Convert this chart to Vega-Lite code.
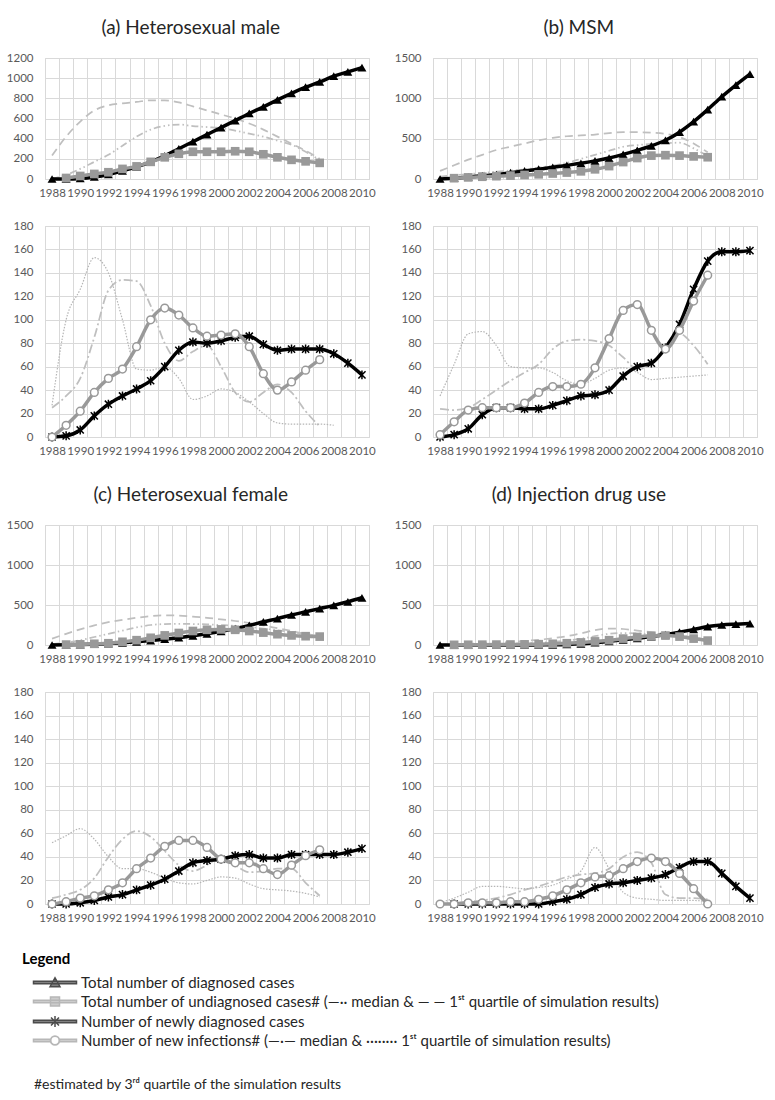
{
  "$schema": "https://vega.github.io/schema/vega-lite/v6.json",
  "background": "white",
  "padding": {"left": 5, "top": 18, "right": 5, "bottom": 5},
  "config": {
    "font": "Lato",
    "view": {"stroke": "#d9d9d9", "strokeWidth": 1},
    "axis": {"domain": false, "ticks": false, "labelColor": "#595959", "labelFontSize": 11.5, "labelFont": "Lato", "gridColor": "#d9d9d9", "gridWidth": 1, "labelPadding": 12},
    "axisX": {"labelPadding": 8},
    "title": {"font": "Lato", "fontSize": 19, "fontWeight": "normal", "color": "#262626"}
  },
  "resolve": {"scale": {"shape": "independent", "fill": "independent", "stroke": "independent"}, "legend": {"shape": "independent", "fill": "independent", "stroke": "independent"}},
  "datasets": {
    "m": [
      {"p":"a","yr":1988,"d":0,"u":null,"um":5,"uq":233,"nd":0,"ni":0,"nm":25,"nq":27},
      {"p":"a","yr":1989,"d":0,"u":10,"um":40,"uq":420,"nd":1,"ni":10,"nm":35,"nq":100},
      {"p":"a","yr":1990,"d":5,"u":30,"um":100,"uq":570,"nd":6,"ni":22,"nm":50,"nq":126},
      {"p":"a","yr":1991,"d":20,"u":50,"um":170,"uq":680,"nd":18,"ni":38,"nm":85,"nq":153},
      {"p":"a","yr":1992,"d":45,"u":67,"um":240,"uq":730,"nd":28,"ni":50,"nm":125,"nq":140},
      {"p":"a","yr":1993,"d":80,"u":100,"um":330,"uq":750,"nd":35,"ni":58,"nm":134,"nq":100},
      {"p":"a","yr":1994,"d":120,"u":125,"um":420,"uq":765,"nd":41,"ni":77,"nm":133,"nq":58},
      {"p":"a","yr":1995,"d":170,"u":170,"um":490,"uq":780,"nd":48,"ni":100,"nm":112,"nq":57},
      {"p":"a","yr":1996,"d":230,"u":215,"um":527,"uq":780,"nd":60,"ni":110,"nm":80,"nq":60},
      {"p":"a","yr":1997,"d":300,"u":250,"um":540,"uq":760,"nd":74,"ni":104,"nm":65,"nq":50},
      {"p":"a","yr":1998,"d":370,"u":270,"um":525,"uq":720,"nd":81,"ni":93,"nm":73,"nq":32},
      {"p":"a","yr":1999,"d":440,"u":270,"um":515,"uq":680,"nd":80,"ni":86,"nm":78,"nq":35},
      {"p":"a","yr":2000,"d":510,"u":270,"um":505,"uq":640,"nd":82,"ni":87,"nm":60,"nq":41},
      {"p":"a","yr":2001,"d":580,"u":275,"um":480,"uq":600,"nd":85,"ni":88,"nm":38,"nq":38},
      {"p":"a","yr":2002,"d":650,"u":270,"um":450,"uq":550,"nd":86,"ni":77,"nm":30,"nq":30},
      {"p":"a","yr":2003,"d":715,"u":245,"um":420,"uq":490,"nd":79,"ni":54,"nm":38,"nq":20},
      {"p":"a","yr":2004,"d":785,"u":215,"um":380,"uq":420,"nd":74,"ni":40,"nm":45,"nq":12},
      {"p":"a","yr":2005,"d":850,"u":190,"um":340,"uq":350,"nd":75,"ni":47,"nm":38,"nq":11},
      {"p":"a","yr":2006,"d":910,"u":175,"um":270,"uq":280,"nd":75,"ni":57,"nm":22,"nq":11},
      {"p":"a","yr":2007,"d":963,"u":160,"um":190,"uq":200,"nd":75,"ni":66,"nm":9,"nq":11},
      {"p":"a","yr":2008,"d":1020,"u":null,"um":null,"uq":null,"nd":71,"ni":null,"nm":null,"nq":10},
      {"p":"a","yr":2009,"d":1063,"u":null,"um":null,"uq":null,"nd":63,"ni":null,"nm":null,"nq":null},
      {"p":"a","yr":2010,"d":1105,"u":null,"um":null,"uq":null,"nd":53,"ni":null,"nm":null,"nq":null},

      {"p":"b","yr":1988,"d":0,"u":null,"um":30,"uq":100,"nd":0,"ni":2,"nm":24,"nq":35},
      {"p":"b","yr":1989,"d":10,"u":10,"um":45,"uq":170,"nd":2,"ni":13,"nm":23,"nq":62},
      {"p":"b","yr":1990,"d":25,"u":20,"um":60,"uq":240,"nd":7,"ni":23,"nm":25,"nq":88},
      {"p":"b","yr":1991,"d":40,"u":28,"um":75,"uq":300,"nd":19,"ni":25,"nm":32,"nq":90},
      {"p":"b","yr":1992,"d":55,"u":35,"um":90,"uq":360,"nd":25,"ni":25,"nm":40,"nq":78},
      {"p":"b","yr":1993,"d":78,"u":42,"um":105,"uq":400,"nd":25,"ni":25,"nm":48,"nq":60},
      {"p":"b","yr":1994,"d":100,"u":50,"um":120,"uq":440,"nd":24,"ni":29,"nm":55,"nq":59},
      {"p":"b","yr":1995,"d":122,"u":58,"um":140,"uq":480,"nd":24,"ni":38,"nm":62,"nq":59},
      {"p":"b","yr":1996,"d":145,"u":68,"um":165,"uq":510,"nd":27,"ni":43,"nm":75,"nq":55},
      {"p":"b","yr":1997,"d":170,"u":80,"um":200,"uq":530,"nd":31,"ni":43,"nm":82,"nq":48},
      {"p":"b","yr":1998,"d":195,"u":95,"um":250,"uq":540,"nd":35,"ni":45,"nm":83,"nq":45},
      {"p":"b","yr":1999,"d":225,"u":120,"um":300,"uq":550,"nd":36,"ni":59,"nm":82,"nq":50},
      {"p":"b","yr":2000,"d":260,"u":160,"um":350,"uq":570,"nd":40,"ni":84,"nm":78,"nq":57},
      {"p":"b","yr":2001,"d":305,"u":210,"um":400,"uq":580,"nd":52,"ni":108,"nm":68,"nq":59},
      {"p":"b","yr":2002,"d":355,"u":260,"um":420,"uq":580,"nd":60,"ni":113,"nm":58,"nq":55},
      {"p":"b","yr":2003,"d":410,"u":290,"um":435,"uq":575,"nd":63,"ni":91,"nm":62,"nq":49},
      {"p":"b","yr":2004,"d":480,"u":295,"um":445,"uq":560,"nd":76,"ni":75,"nm":76,"nq":50},
      {"p":"b","yr":2005,"d":580,"u":290,"um":450,"uq":520,"nd":96,"ni":91,"nm":88,"nq":51},
      {"p":"b","yr":2006,"d":710,"u":280,"um":380,"uq":440,"nd":126,"ni":116,"nm":78,"nq":52},
      {"p":"b","yr":2007,"d":860,"u":270,"um":280,"uq":330,"nd":150,"ni":138,"nm":62,"nq":53},
      {"p":"b","yr":2008,"d":1020,"u":null,"um":null,"uq":null,"nd":158,"ni":null,"nm":null,"nq":null},
      {"p":"b","yr":2009,"d":1165,"u":null,"um":null,"uq":null,"nd":158,"ni":null,"nm":null,"nq":null},
      {"p":"b","yr":2010,"d":1300,"u":null,"um":null,"uq":null,"nd":159,"ni":null,"nm":null,"nq":null},

      {"p":"c","yr":1988,"d":0,"u":null,"um":10,"uq":80,"nd":0,"ni":0,"nm":5,"nq":52},
      {"p":"c","yr":1989,"d":2,"u":5,"um":30,"uq":140,"nd":0,"ni":2,"nm":8,"nq":58},
      {"p":"c","yr":1990,"d":5,"u":8,"um":60,"uq":195,"nd":1,"ni":5,"nm":12,"nq":64},
      {"p":"c","yr":1991,"d":10,"u":15,"um":100,"uq":245,"nd":3,"ni":7,"nm":22,"nq":55},
      {"p":"c","yr":1992,"d":18,"u":22,"um":140,"uq":285,"nd":6,"ni":12,"nm":40,"nq":40},
      {"p":"c","yr":1993,"d":28,"u":40,"um":180,"uq":315,"nd":8,"ni":18,"nm":55,"nq":30},
      {"p":"c","yr":1994,"d":40,"u":60,"um":220,"uq":340,"nd":12,"ni":30,"nm":62,"nq":30},
      {"p":"c","yr":1995,"d":55,"u":90,"um":250,"uq":360,"nd":16,"ni":39,"nm":57,"nq":27},
      {"p":"c","yr":1996,"d":72,"u":120,"um":262,"uq":370,"nd":21,"ni":49,"nm":45,"nq":22},
      {"p":"c","yr":1997,"d":92,"u":150,"um":265,"uq":368,"nd":28,"ni":54,"nm":33,"nq":18},
      {"p":"c","yr":1998,"d":115,"u":175,"um":262,"uq":355,"nd":35,"ni":54,"nm":28,"nq":17},
      {"p":"c","yr":1999,"d":140,"u":190,"um":258,"uq":340,"nd":37,"ni":48,"nm":33,"nq":20},
      {"p":"c","yr":2000,"d":170,"u":195,"um":250,"uq":320,"nd":38,"ni":38,"nm":40,"nq":23},
      {"p":"c","yr":2001,"d":205,"u":190,"um":240,"uq":300,"nd":41,"ni":35,"nm":33,"nq":22},
      {"p":"c","yr":2002,"d":245,"u":175,"um":225,"uq":275,"nd":42,"ni":35,"nm":27,"nq":17},
      {"p":"c","yr":2003,"d":290,"u":155,"um":205,"uq":245,"nd":39,"ni":30,"nm":28,"nq":13},
      {"p":"c","yr":2004,"d":330,"u":135,"um":185,"uq":210,"nd":39,"ni":25,"nm":30,"nq":12},
      {"p":"c","yr":2005,"d":375,"u":120,"um":160,"uq":175,"nd":42,"ni":33,"nm":30,"nq":11},
      {"p":"c","yr":2006,"d":415,"u":110,"um":135,"uq":140,"nd":42,"ni":41,"nm":18,"nq":9},
      {"p":"c","yr":2007,"d":455,"u":105,"um":110,"uq":110,"nd":42,"ni":46,"nm":7,"nq":6},
      {"p":"c","yr":2008,"d":495,"u":null,"um":null,"uq":null,"nd":42,"ni":null,"nm":null,"nq":null},
      {"p":"c","yr":2009,"d":540,"u":null,"um":null,"uq":null,"nd":44,"ni":null,"nm":null,"nq":null},
      {"p":"c","yr":2010,"d":590,"u":null,"um":null,"uq":null,"nd":47,"ni":null,"nm":null,"nq":null},

      {"p":"d","yr":1988,"d":0,"u":null,"um":2,"uq":5,"nd":null,"ni":0,"nm":0,"nq":1},
      {"p":"d","yr":1989,"d":0,"u":2,"um":4,"uq":10,"nd":0,"ni":0,"nm":1,"nq":5},
      {"p":"d","yr":1990,"d":0,"u":3,"um":6,"uq":15,"nd":0,"ni":1,"nm":2,"nq":10},
      {"p":"d","yr":1991,"d":0,"u":4,"um":8,"uq":20,"nd":0,"ni":1,"nm":3,"nq":15},
      {"p":"d","yr":1992,"d":0,"u":5,"um":10,"uq":28,"nd":0,"ni":1,"nm":5,"nq":15},
      {"p":"d","yr":1993,"d":0,"u":6,"um":14,"uq":38,"nd":0,"ni":2,"nm":8,"nq":14},
      {"p":"d","yr":1994,"d":0,"u":8,"um":20,"uq":50,"nd":0,"ni":2,"nm":12,"nq":13},
      {"p":"d","yr":1995,"d":1,"u":10,"um":28,"uq":65,"nd":0,"ni":4,"nm":15,"nq":14},
      {"p":"d","yr":1996,"d":3,"u":15,"um":40,"uq":85,"nd":2,"ni":7,"nm":19,"nq":16},
      {"p":"d","yr":1997,"d":7,"u":22,"um":55,"uq":110,"nd":4,"ni":12,"nm":23,"nq":21},
      {"p":"d","yr":1998,"d":15,"u":32,"um":80,"uq":145,"nd":8,"ni":18,"nm":25,"nq":28},
      {"p":"d","yr":1999,"d":29,"u":45,"um":110,"uq":185,"nd":14,"ni":23,"nm":26,"nq":48},
      {"p":"d","yr":2000,"d":46,"u":60,"um":140,"uq":205,"nd":17,"ni":24,"nm":30,"nq":30},
      {"p":"d","yr":2001,"d":64,"u":80,"um":150,"uq":200,"nd":18,"ni":30,"nm":40,"nq":10},
      {"p":"d","yr":2002,"d":84,"u":100,"um":145,"uq":180,"nd":20,"ni":36,"nm":44,"nq":5},
      {"p":"d","yr":2003,"d":105,"u":115,"um":135,"uq":160,"nd":22,"ni":39,"nm":35,"nq":4},
      {"p":"d","yr":2004,"d":130,"u":118,"um":120,"uq":140,"nd":25,"ni":36,"nm":8,"nq":3},
      {"p":"d","yr":2005,"d":160,"u":105,"um":100,"uq":120,"nd":31,"ni":26,"nm":5,"nq":3},
      {"p":"d","yr":2006,"d":195,"u":80,"um":80,"uq":95,"nd":36,"ni":13,"nm":5,"nq":3},
      {"p":"d","yr":2007,"d":230,"u":55,"um":58,"uq":65,"nd":36,"ni":0,"nm":4,"nq":2},
      {"p":"d","yr":2008,"d":250,"u":null,"um":null,"uq":null,"nd":26,"ni":null,"nm":null,"nq":null},
      {"p":"d","yr":2009,"d":260,"u":null,"um":null,"uq":null,"nd":15,"ni":null,"nm":null,"nq":null},
      {"p":"d","yr":2010,"d":268,"u":null,"um":null,"uq":null,"nd":5,"ni":null,"nm":null,"nq":null}
    ]
  },
  "vconcat": [
    {
      "spacing": 17,
      "hconcat": [
        {
          "title": {"text": "(a) Heterosexual male", "anchor": "middle", "frame": "bounds", "offset": 14},
          "spacing": 20,
          "vconcat": [
            {
              "width": 324, "height": 121,
              "data": {"name": "m"},
              "transform": [{"filter": "datum.p === 'a'"}],
              "encoding": {"x": {"field": "yr", "type": "ordinal", "bandPosition": 0.5, "scale": {"type": "band", "paddingInner": 0, "paddingOuter": 0}, "axis": {"title": null, "tickBand": "extent", "grid": true, "labelAngle": 0, "labelOverlap": false, "labelExpr": "datum.value % 2 === 0 ? datum.label : ''"}}},
              "layer": [
                {"mark": {"type": "line", "stroke": "#bfbfbf", "strokeWidth": 1.75, "strokeDash": [7, 3, 1.5, 3, 1.5, 3], "interpolate": "monotone"}, "encoding": {"y": {"field": "um", "type": "quantitative", "scale": {"domain": [0, 1200], "nice": false}, "axis": {"title": null, "format": "d", "values": [0, 200, 400, 600, 800, 1000, 1200], "grid": true}}}},
                {"mark": {"type": "line", "stroke": "#bfbfbf", "strokeWidth": 1.75, "strokeDash": [8, 5], "interpolate": "monotone"}, "encoding": {"y": {"field": "uq", "type": "quantitative", "scale": {"domain": [0, 1200], "nice": false}, "axis": {"title": null, "format": "d", "values": [0, 200, 400, 600, 800, 1000, 1200], "grid": true}}}},
                {"mark": {"type": "line", "color": "#000000", "strokeWidth": 3.5, "strokeJoin": "round", "interpolate": "monotone", "point": {"shape": "triangle-up", "size": 80, "filled": true, "color": "#000000"}}, "encoding": {"y": {"field": "d", "type": "quantitative", "scale": {"domain": [0, 1200], "nice": false}, "axis": {"title": null, "format": "d", "values": [0, 200, 400, 600, 800, 1000, 1200], "grid": true}}}},
                {"mark": {"type": "line", "color": "#999999", "strokeWidth": 3.5, "strokeJoin": "round", "interpolate": "monotone", "point": {"shape": "square", "size": 75, "filled": true, "color": "#999999"}}, "encoding": {"y": {"field": "u", "type": "quantitative", "scale": {"domain": [0, 1200], "nice": false}, "axis": {"title": null, "format": "d", "values": [0, 200, 400, 600, 800, 1000, 1200], "grid": true}}}}
              ]
            },
            {
              "width": 324, "height": 211,
              "data": {"name": "m"},
              "transform": [{"filter": "datum.p === 'a'"}],
              "encoding": {"x": {"field": "yr", "type": "ordinal", "bandPosition": 0.5, "scale": {"type": "band", "paddingInner": 0, "paddingOuter": 0}, "axis": {"title": null, "tickBand": "extent", "grid": true, "labelAngle": 0, "labelOverlap": false, "labelExpr": "datum.value % 2 === 0 ? datum.label : ''"}}},
              "layer": [
                {"mark": {"type": "line", "stroke": "#bfbfbf", "strokeWidth": 1.75, "strokeDash": [9, 3, 2, 3], "interpolate": "monotone"}, "encoding": {"y": {"field": "nm", "type": "quantitative", "scale": {"domain": [0, 180], "nice": false}, "axis": {"title": null, "format": "d", "values": [0, 20, 40, 60, 80, 100, 120, 140, 160, 180], "grid": true}}}},
                {"mark": {"type": "line", "stroke": "#b5b5b5", "strokeWidth": 1.2, "strokeDash": [1.5, 1.5], "interpolate": "monotone"}, "encoding": {"y": {"field": "nq", "type": "quantitative", "scale": {"domain": [0, 180], "nice": false}, "axis": {"title": null, "format": "d", "values": [0, 20, 40, 60, 80, 100, 120, 140, 160, 180], "grid": true}}}},
                {"mark": {"type": "line", "color": "#000000", "strokeWidth": 3.5, "strokeJoin": "round", "interpolate": "monotone", "point": {"shape": "M-0.8,-0.8L0.8,0.8M-0.8,0.8L0.8,-0.8M0,-1V1", "size": 80, "filled": false, "strokeWidth": 1.5, "color": "#000000"}}, "encoding": {"y": {"field": "nd", "type": "quantitative", "scale": {"domain": [0, 180], "nice": false}, "axis": {"title": null, "format": "d", "values": [0, 20, 40, 60, 80, 100, 120, 140, 160, 180], "grid": true}}}},
                {"mark": {"type": "line", "color": "#999999", "strokeWidth": 3.5, "strokeJoin": "round", "interpolate": "monotone", "point": {"shape": "circle", "size": 60, "filled": true, "fill": "#ffffff", "stroke": "#999999", "strokeWidth": 1.5}}, "encoding": {"y": {"field": "ni", "type": "quantitative", "scale": {"domain": [0, 180], "nice": false}, "axis": {"title": null, "format": "d", "values": [0, 20, 40, 60, 80, 100, 120, 140, 160, 180], "grid": true}}}}
              ]
            }
          ]
        },
        {
          "title": {"text": "(b) MSM", "anchor": "middle", "frame": "bounds", "offset": 14},
          "spacing": 20,
          "vconcat": [
            {
              "width": 324, "height": 121,
              "data": {"name": "m"},
              "transform": [{"filter": "datum.p === 'b'"}],
              "encoding": {"x": {"field": "yr", "type": "ordinal", "bandPosition": 0.5, "scale": {"type": "band", "paddingInner": 0, "paddingOuter": 0}, "axis": {"title": null, "tickBand": "extent", "grid": true, "labelAngle": 0, "labelOverlap": false, "labelExpr": "datum.value % 2 === 0 ? datum.label : ''"}}},
              "layer": [
                {"mark": {"type": "line", "stroke": "#bfbfbf", "strokeWidth": 1.75, "strokeDash": [7, 3, 1.5, 3, 1.5, 3], "interpolate": "monotone"}, "encoding": {"y": {"field": "um", "type": "quantitative", "scale": {"domain": [0, 1500], "nice": false}, "axis": {"title": null, "format": "d", "values": [0, 500, 1000, 1500], "grid": true}}}},
                {"mark": {"type": "line", "stroke": "#bfbfbf", "strokeWidth": 1.75, "strokeDash": [8, 5], "interpolate": "monotone"}, "encoding": {"y": {"field": "uq", "type": "quantitative", "scale": {"domain": [0, 1500], "nice": false}, "axis": {"title": null, "format": "d", "values": [0, 500, 1000, 1500], "grid": true}}}},
                {"mark": {"type": "line", "color": "#000000", "strokeWidth": 3.5, "strokeJoin": "round", "interpolate": "monotone", "point": {"shape": "triangle-up", "size": 80, "filled": true, "color": "#000000"}}, "encoding": {"y": {"field": "d", "type": "quantitative", "scale": {"domain": [0, 1500], "nice": false}, "axis": {"title": null, "format": "d", "values": [0, 500, 1000, 1500], "grid": true}}}},
                {"mark": {"type": "line", "color": "#999999", "strokeWidth": 3.5, "strokeJoin": "round", "interpolate": "monotone", "point": {"shape": "square", "size": 75, "filled": true, "color": "#999999"}}, "encoding": {"y": {"field": "u", "type": "quantitative", "scale": {"domain": [0, 1500], "nice": false}, "axis": {"title": null, "format": "d", "values": [0, 500, 1000, 1500], "grid": true}}}}
              ]
            },
            {
              "width": 324, "height": 211,
              "data": {"name": "m"},
              "transform": [{"filter": "datum.p === 'b'"}],
              "encoding": {"x": {"field": "yr", "type": "ordinal", "bandPosition": 0.5, "scale": {"type": "band", "paddingInner": 0, "paddingOuter": 0}, "axis": {"title": null, "tickBand": "extent", "grid": true, "labelAngle": 0, "labelOverlap": false, "labelExpr": "datum.value % 2 === 0 ? datum.label : ''"}}},
              "layer": [
                {"mark": {"type": "line", "stroke": "#bfbfbf", "strokeWidth": 1.75, "strokeDash": [9, 3, 2, 3], "interpolate": "monotone"}, "encoding": {"y": {"field": "nm", "type": "quantitative", "scale": {"domain": [0, 180], "nice": false}, "axis": {"title": null, "format": "d", "values": [0, 20, 40, 60, 80, 100, 120, 140, 160, 180], "grid": true}}}},
                {"mark": {"type": "line", "stroke": "#b5b5b5", "strokeWidth": 1.2, "strokeDash": [1.5, 1.5], "interpolate": "monotone"}, "encoding": {"y": {"field": "nq", "type": "quantitative", "scale": {"domain": [0, 180], "nice": false}, "axis": {"title": null, "format": "d", "values": [0, 20, 40, 60, 80, 100, 120, 140, 160, 180], "grid": true}}}},
                {"mark": {"type": "line", "color": "#000000", "strokeWidth": 3.5, "strokeJoin": "round", "interpolate": "monotone", "point": {"shape": "M-0.8,-0.8L0.8,0.8M-0.8,0.8L0.8,-0.8M0,-1V1", "size": 80, "filled": false, "strokeWidth": 1.5, "color": "#000000"}}, "encoding": {"y": {"field": "nd", "type": "quantitative", "scale": {"domain": [0, 180], "nice": false}, "axis": {"title": null, "format": "d", "values": [0, 20, 40, 60, 80, 100, 120, 140, 160, 180], "grid": true}}}},
                {"mark": {"type": "line", "color": "#999999", "strokeWidth": 3.5, "strokeJoin": "round", "interpolate": "monotone", "point": {"shape": "circle", "size": 60, "filled": true, "fill": "#ffffff", "stroke": "#999999", "strokeWidth": 1.5}}, "encoding": {"y": {"field": "ni", "type": "quantitative", "scale": {"domain": [0, 180], "nice": false}, "axis": {"title": null, "format": "d", "values": [0, 20, 40, 60, 80, 100, 120, 140, 160, 180], "grid": true}}}}
              ]
            }
          ]
        }
      ]
    },
    {
      "spacing": 17,
      "hconcat": [
        {
          "title": {"text": "(c) Heterosexual female", "anchor": "middle", "frame": "bounds", "offset": 14},
          "spacing": 20,
          "vconcat": [
            {
              "width": 324, "height": 120,
              "data": {"name": "m"},
              "transform": [{"filter": "datum.p === 'c'"}],
              "encoding": {"x": {"field": "yr", "type": "ordinal", "bandPosition": 0.5, "scale": {"type": "band", "paddingInner": 0, "paddingOuter": 0}, "axis": {"title": null, "tickBand": "extent", "grid": true, "labelAngle": 0, "labelOverlap": false, "labelExpr": "datum.value % 2 === 0 ? datum.label : ''"}}},
              "layer": [
                {"mark": {"type": "line", "stroke": "#bfbfbf", "strokeWidth": 1.75, "strokeDash": [7, 3, 1.5, 3, 1.5, 3], "interpolate": "monotone"}, "encoding": {"y": {"field": "um", "type": "quantitative", "scale": {"domain": [0, 1500], "nice": false}, "axis": {"title": null, "format": "d", "values": [0, 500, 1000, 1500], "grid": true}}}},
                {"mark": {"type": "line", "stroke": "#bfbfbf", "strokeWidth": 1.75, "strokeDash": [8, 5], "interpolate": "monotone"}, "encoding": {"y": {"field": "uq", "type": "quantitative", "scale": {"domain": [0, 1500], "nice": false}, "axis": {"title": null, "format": "d", "values": [0, 500, 1000, 1500], "grid": true}}}},
                {"mark": {"type": "line", "color": "#000000", "strokeWidth": 3.5, "strokeJoin": "round", "interpolate": "monotone", "point": {"shape": "triangle-up", "size": 80, "filled": true, "color": "#000000"}}, "encoding": {"y": {"field": "d", "type": "quantitative", "scale": {"domain": [0, 1500], "nice": false}, "axis": {"title": null, "format": "d", "values": [0, 500, 1000, 1500], "grid": true}}}},
                {"mark": {"type": "line", "color": "#999999", "strokeWidth": 3.5, "strokeJoin": "round", "interpolate": "monotone", "point": {"shape": "square", "size": 75, "filled": true, "color": "#999999"}}, "encoding": {"y": {"field": "u", "type": "quantitative", "scale": {"domain": [0, 1500], "nice": false}, "axis": {"title": null, "format": "d", "values": [0, 500, 1000, 1500], "grid": true}}}}
              ]
            },
            {
              "width": 324, "height": 212,
              "data": {"name": "m"},
              "transform": [{"filter": "datum.p === 'c'"}],
              "encoding": {"x": {"field": "yr", "type": "ordinal", "bandPosition": 0.5, "scale": {"type": "band", "paddingInner": 0, "paddingOuter": 0}, "axis": {"title": null, "tickBand": "extent", "grid": true, "labelAngle": 0, "labelOverlap": false, "labelExpr": "datum.value % 2 === 0 ? datum.label : ''"}}},
              "layer": [
                {"mark": {"type": "line", "stroke": "#bfbfbf", "strokeWidth": 1.75, "strokeDash": [9, 3, 2, 3], "interpolate": "monotone"}, "encoding": {"y": {"field": "nm", "type": "quantitative", "scale": {"domain": [0, 180], "nice": false}, "axis": {"title": null, "format": "d", "values": [0, 20, 40, 60, 80, 100, 120, 140, 160, 180], "grid": true}}}},
                {"mark": {"type": "line", "stroke": "#b5b5b5", "strokeWidth": 1.2, "strokeDash": [1.5, 1.5], "interpolate": "monotone"}, "encoding": {"y": {"field": "nq", "type": "quantitative", "scale": {"domain": [0, 180], "nice": false}, "axis": {"title": null, "format": "d", "values": [0, 20, 40, 60, 80, 100, 120, 140, 160, 180], "grid": true}}}},
                {"mark": {"type": "line", "color": "#000000", "strokeWidth": 3.5, "strokeJoin": "round", "interpolate": "monotone", "point": {"shape": "M-0.8,-0.8L0.8,0.8M-0.8,0.8L0.8,-0.8M0,-1V1", "size": 80, "filled": false, "strokeWidth": 1.5, "color": "#000000"}}, "encoding": {"y": {"field": "nd", "type": "quantitative", "scale": {"domain": [0, 180], "nice": false}, "axis": {"title": null, "format": "d", "values": [0, 20, 40, 60, 80, 100, 120, 140, 160, 180], "grid": true}}}},
                {"mark": {"type": "line", "color": "#999999", "strokeWidth": 3.5, "strokeJoin": "round", "interpolate": "monotone", "point": {"shape": "circle", "size": 60, "filled": true, "fill": "#ffffff", "stroke": "#999999", "strokeWidth": 1.5}}, "encoding": {"y": {"field": "ni", "type": "quantitative", "scale": {"domain": [0, 180], "nice": false}, "axis": {"title": null, "format": "d", "values": [0, 20, 40, 60, 80, 100, 120, 140, 160, 180], "grid": true}}}}
              ]
            }
          ]
        },
        {
          "title": {"text": "(d) Injection drug use", "anchor": "middle", "frame": "bounds", "offset": 14},
          "spacing": 20,
          "vconcat": [
            {
              "width": 324, "height": 120,
              "data": {"name": "m"},
              "transform": [{"filter": "datum.p === 'd'"}],
              "encoding": {"x": {"field": "yr", "type": "ordinal", "bandPosition": 0.5, "scale": {"type": "band", "paddingInner": 0, "paddingOuter": 0}, "axis": {"title": null, "tickBand": "extent", "grid": true, "labelAngle": 0, "labelOverlap": false, "labelExpr": "datum.value % 2 === 0 ? datum.label : ''"}}},
              "layer": [
                {"mark": {"type": "line", "stroke": "#bfbfbf", "strokeWidth": 1.75, "strokeDash": [7, 3, 1.5, 3, 1.5, 3], "interpolate": "monotone"}, "encoding": {"y": {"field": "um", "type": "quantitative", "scale": {"domain": [0, 1500], "nice": false}, "axis": {"title": null, "format": "d", "values": [0, 500, 1000, 1500], "grid": true}}}},
                {"mark": {"type": "line", "stroke": "#bfbfbf", "strokeWidth": 1.75, "strokeDash": [8, 5], "interpolate": "monotone"}, "encoding": {"y": {"field": "uq", "type": "quantitative", "scale": {"domain": [0, 1500], "nice": false}, "axis": {"title": null, "format": "d", "values": [0, 500, 1000, 1500], "grid": true}}}},
                {"mark": {"type": "line", "color": "#000000", "strokeWidth": 3.5, "strokeJoin": "round", "interpolate": "monotone", "point": {"shape": "triangle-up", "size": 80, "filled": true, "color": "#000000"}}, "encoding": {"y": {"field": "d", "type": "quantitative", "scale": {"domain": [0, 1500], "nice": false}, "axis": {"title": null, "format": "d", "values": [0, 500, 1000, 1500], "grid": true}}}},
                {"mark": {"type": "line", "color": "#999999", "strokeWidth": 3.5, "strokeJoin": "round", "interpolate": "monotone", "point": {"shape": "square", "size": 75, "filled": true, "color": "#999999"}}, "encoding": {"y": {"field": "u", "type": "quantitative", "scale": {"domain": [0, 1500], "nice": false}, "axis": {"title": null, "format": "d", "values": [0, 500, 1000, 1500], "grid": true}}}}
              ]
            },
            {
              "width": 324, "height": 212,
              "data": {"name": "m"},
              "transform": [{"filter": "datum.p === 'd'"}],
              "encoding": {"x": {"field": "yr", "type": "ordinal", "bandPosition": 0.5, "scale": {"type": "band", "paddingInner": 0, "paddingOuter": 0}, "axis": {"title": null, "tickBand": "extent", "grid": true, "labelAngle": 0, "labelOverlap": false, "labelExpr": "datum.value % 2 === 0 ? datum.label : ''"}}},
              "layer": [
                {"mark": {"type": "line", "stroke": "#bfbfbf", "strokeWidth": 1.75, "strokeDash": [9, 3, 2, 3], "interpolate": "monotone"}, "encoding": {"y": {"field": "nm", "type": "quantitative", "scale": {"domain": [0, 180], "nice": false}, "axis": {"title": null, "format": "d", "values": [0, 20, 40, 60, 80, 100, 120, 140, 160, 180], "grid": true}}}},
                {"mark": {"type": "line", "stroke": "#b5b5b5", "strokeWidth": 1.2, "strokeDash": [1.5, 1.5], "interpolate": "monotone"}, "encoding": {"y": {"field": "nq", "type": "quantitative", "scale": {"domain": [0, 180], "nice": false}, "axis": {"title": null, "format": "d", "values": [0, 20, 40, 60, 80, 100, 120, 140, 160, 180], "grid": true}}}},
                {"mark": {"type": "line", "color": "#000000", "strokeWidth": 3.5, "strokeJoin": "round", "interpolate": "monotone", "point": {"shape": "M-0.8,-0.8L0.8,0.8M-0.8,0.8L0.8,-0.8M0,-1V1", "size": 80, "filled": false, "strokeWidth": 1.5, "color": "#000000"}}, "encoding": {"y": {"field": "nd", "type": "quantitative", "scale": {"domain": [0, 180], "nice": false}, "axis": {"title": null, "format": "d", "values": [0, 20, 40, 60, 80, 100, 120, 140, 160, 180], "grid": true}}}},
                {"mark": {"type": "line", "color": "#999999", "strokeWidth": 3.5, "strokeJoin": "round", "interpolate": "monotone", "point": {"shape": "circle", "size": 60, "filled": true, "fill": "#ffffff", "stroke": "#999999", "strokeWidth": 1.5}}, "encoding": {"y": {"field": "ni", "type": "quantitative", "scale": {"domain": [0, 180], "nice": false}, "axis": {"title": null, "format": "d", "values": [0, 20, 40, 60, 80, 100, 120, 140, 160, 180], "grid": true}}}}
              ]
            }
          ]
        }
      ]
    },
    {
      "width": 740, "height": 120,
      "view": {"stroke": null},
      "title": {"text": "#estimated by 3ʳᵈ quartile of the simulation results", "orient": "bottom", "anchor": "start", "fontSize": 14, "offset": 0, "dx": 12},
      "data": {"values": [{"s": "A"}, {"s": "B"}, {"s": "C"}, {"s": "D"}]},
      "transform": [{"filter": "false"}],
      "mark": {"type": "point", "filled": true},
      "encoding": {
        "shape": {
          "field": "s", "type": "nominal",
          "scale": {"domain": ["A", "B", "C", "D"], "range": [
            "M0.8,-0.25H9.4V0.25H0.8ZM4.1,0.85L5.1,-0.95L6.1,0.85Z",
            "M0.8,-0.25H9.4V0.25H0.8ZM4.2,-0.9H6V0.9H4.2Z",
            "M0.8,-0.25H9.4V0.25H0.8ZM5.1,-1.1V1.1M4.3,-0.8L5.9,0.8M4.3,0.8L5.9,-0.8",
            "M0.8,-0.25H4.2V0.25H0.8ZM6,-0.25H9.4V0.25H6ZM6,0A0.9,0.9,0,1,1,4.2,0A0.9,0.9,0,1,1,6,0ZM5.94,0A0.84,0.84,0,1,0,4.26,0A0.84,0.84,0,1,0,5.94,0Z"
          ]},
          "legend": {
            "orient": "none", "legendX": -23, "legendY": -6,
            "title": "Legend", "titleFontSize": 15, "titleFontWeight": "bold", "titleColor": "#000000", "titlePadding": 8, "titleFont": "Lato",
            "labelFontSize": 15, "labelColor": "#262626", "labelLimit": 0, "labelFont": "Lato", "labelOffset": 44,
            "labelExpr": "{'A': 'Total number of diagnosed cases', 'B': 'Total number of undiagnosed cases# (—·· median & — — 1ˢᵗ quartile of simulation results)', 'C': 'Number of newly diagnosed cases', 'D': 'Number of new infections# (—·— median & ········ 1ˢᵗ quartile of simulation results)'}[datum.label]",
            "symbolSize": 100, "symbolStrokeWidth": 1.5, "rowPadding": 3
          }
        },
        "fill": {
          "field": "s", "type": "nominal",
          "scale": {"domain": ["A", "B", "C", "D"], "range": ["#000000", "#999999", "#000000", "#999999"]},
          "legend": {
            "orient": "none", "legendX": -23, "legendY": -6,
            "title": "Legend", "titleFontSize": 15, "titleFontWeight": "bold", "titleColor": "#000000", "titlePadding": 8, "titleFont": "Lato",
            "labelFontSize": 15, "labelColor": "#262626", "labelLimit": 0, "labelFont": "Lato", "labelOffset": 44,
            "labelExpr": "{'A': 'Total number of diagnosed cases', 'B': 'Total number of undiagnosed cases# (—·· median & — — 1ˢᵗ quartile of simulation results)', 'C': 'Number of newly diagnosed cases', 'D': 'Number of new infections# (—·— median & ········ 1ˢᵗ quartile of simulation results)'}[datum.label]",
            "symbolSize": 100, "symbolStrokeWidth": 1.5, "rowPadding": 3
          }
        },
        "stroke": {
          "field": "s", "type": "nominal",
          "scale": {"domain": ["A", "B", "C", "D"], "range": ["#000000", "#999999", "#000000", "#999999"]},
          "legend": {
            "orient": "none", "legendX": -23, "legendY": -6,
            "title": "Legend", "titleFontSize": 15, "titleFontWeight": "bold", "titleColor": "#000000", "titlePadding": 8, "titleFont": "Lato",
            "labelFontSize": 15, "labelColor": "#262626", "labelLimit": 0, "labelFont": "Lato", "labelOffset": 44,
            "labelExpr": "{'A': 'Total number of diagnosed cases', 'B': 'Total number of undiagnosed cases# (—·· median & — — 1ˢᵗ quartile of simulation results)', 'C': 'Number of newly diagnosed cases', 'D': 'Number of new infections# (—·— median & ········ 1ˢᵗ quartile of simulation results)'}[datum.label]",
            "symbolSize": 100, "symbolStrokeWidth": 1.5, "rowPadding": 3
          }
        }
      }
    }
  ],
  "spacing": 28
}
